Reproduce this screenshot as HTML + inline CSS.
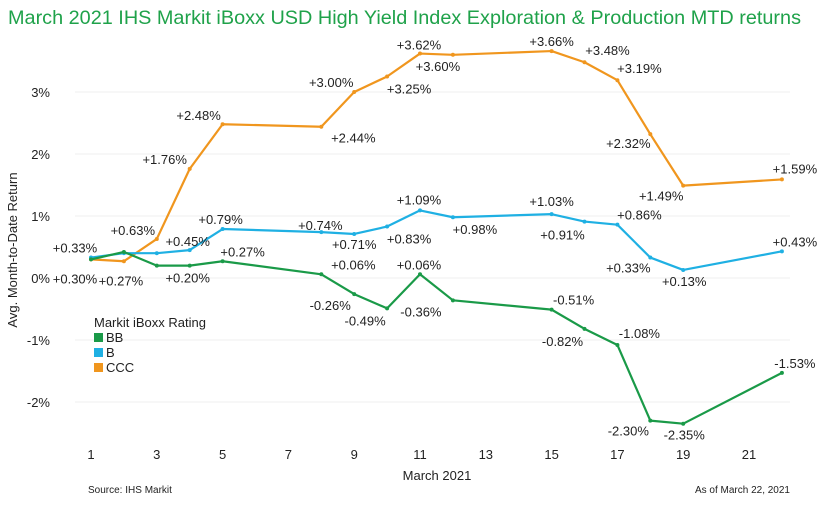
<!DOCTYPE html>
<html><head><meta charset="utf-8"><style>
body{margin:0;background:#fff;width:831px;height:501px;overflow:hidden;font-family:"Liberation Sans",sans-serif}
</style></head><body>
<svg id="chart" width="831" height="501" xmlns="http://www.w3.org/2000/svg" font-family="Liberation Sans, sans-serif">
<text x="8" y="24" font-size="19.5" fill="#1fa24a" textLength="793" lengthAdjust="spacingAndGlyphs">March 2021 IHS Markit iBoxx USD High Yield Index Exploration &amp; Production MTD returns</text>
<g id="grid"></g><g id="axes"></g><g id="series"></g><g id="labels"></g>
<text transform="translate(17,250) rotate(-90)" text-anchor="middle" font-size="13" fill="#222">Avg. Month-to-Date Return</text>
<text x="437" y="480" text-anchor="middle" font-size="13" fill="#222">March 2021</text>
<text x="88" y="493" font-size="10" fill="#222">Source: IHS Markit</text>
<text x="790" y="493" text-anchor="end" font-size="10" fill="#222">As of March 22, 2021</text>
<g>
<text x="94" y="327" font-size="13" fill="#222">Markit iBoxx Rating</text>
<rect x="94" y="333" width="9" height="9" fill="#1a9a48"/>
<text x="106" y="342" font-size="13" fill="#222">BB</text>
<rect x="94" y="348" width="9" height="9" fill="#1fb0e3"/>
<text x="106" y="357" font-size="13" fill="#222">B</text>
<rect x="94" y="363" width="9" height="9" fill="#f0961e"/>
<text x="106" y="372" font-size="13" fill="#222">CCC</text>
</g>
</svg>
<script>
const days=[1,2,3,4,5,8,9,10,11,12,15,16,17,18,19,22];
const bbValues=[0.30,0.42,0.20,0.20,0.27,0.06,-0.26,-0.49,0.06,-0.36,-0.51,-0.82,-1.08,-2.30,-2.35,-1.53];
const bValues=[0.33,0.40,0.40,0.45,0.79,0.74,0.71,0.83,1.09,0.98,1.03,0.91,0.86,0.33,0.13,0.43];
const cccValues=[0.30,0.27,0.63,1.76,2.48,2.44,3.00,3.25,3.62,3.60,3.66,3.48,3.19,2.32,1.49,1.59];
const yTicks=[-2,-1,0,1,2,3];
const xTicks=[1,3,5,7,9,11,13,15,17,19,21];
const bbShow=[0,0,0,1,1,1,1,1,1,1,1,1,1,1,1,1];
const bShow=[1,0,0,1,1,1,1,1,1,1,1,1,1,1,1,1];
const cccShow=[1,1,1,1,1,1,1,1,1,1,1,1,1,1,1,1];
// label offsets (style)
const cccOff=[[-16,19],[-3,19],[-24,-9],[-25,-10],[-24,-9],[32,11],[-23,-10],[22,12],[-1,-9],[-15,11],[0,-10],[23,-12],[22,-12],[-22,9],[-22,10],[13,-11]];
const bOff=[[-16,-10],[0,0],[0,0],[-2,-9],[-2,-10],[-1,-7],[0,10],[22,12],[-1,-11],[22,12],[0,-13],[-22,13],[22,-10],[-22,10],[1,11],[13,-10]];
const bbOff=[[0,0],[0,0],[0,0],[-2,12],[20,-10],[32,-10],[-24,11],[-22,12],[-1,-10],[-32,11],[22,-10],[-22,12],[22,-12],[-22,10],[1,11],[13,-10]];
const X=d=>91+(d-1)*32.9;
const Y=v=>278-v*62;
const NS="http://www.w3.org/2000/svg";
function mk(tag,parent,attrs){const e=document.createElementNS(NS,tag);for(const k in attrs)e.setAttribute(k,attrs[k]);document.getElementById(parent).appendChild(e);return e;}
yTicks.forEach(t=>{
  const g=mk('line','grid',{x1:75,x2:790,y1:Y(t),y2:Y(t),stroke:'#efefef','stroke-width':1});
  
  
  const l=mk('text','axes',{x:50,y:Y(t)+5,'text-anchor':'end','font-size':13,fill:'#222'});
  
  
  l.textContent=t+'%';
});
xTicks.forEach(t=>{
  const l=mk('text','axes',{x:X(t),y:459,'text-anchor':'middle','font-size':13,fill:'#222'});
  
  
  l.textContent=t;
});
function series(vals,color,name,show,off){
  const pts=days.map((d,i)=>X(d)+','+Y(vals[i])).join(' ');
  const p=mk('polyline','series',{points:pts,fill:'none',stroke:color,'stroke-width':2.2,'stroke-linejoin':'round'});
  
  
  days.forEach((d,i)=>{
    const c=mk('circle','series',{cx:X(d),cy:Y(vals[i]),r:2,fill:color});
    
    
    if(!show[i])return;
    const v=vals[i];
    const t=mk('text','labels',{x:X(d)+off[i][0],y:Y(v)+off[i][1]+5,'text-anchor':'middle','font-size':13,fill:'#222'});
    
    
    t.textContent=(v>=0?'+':'')+v.toFixed(2)+'%';
  });
}
series(cccValues,'#f0961e','ccc',cccShow,cccOff);
series(bValues,'#1fb0e3','b',bShow,bOff);
series(bbValues,'#1a9a48','bb',bbShow,bbOff);
</script>
</body></html>
